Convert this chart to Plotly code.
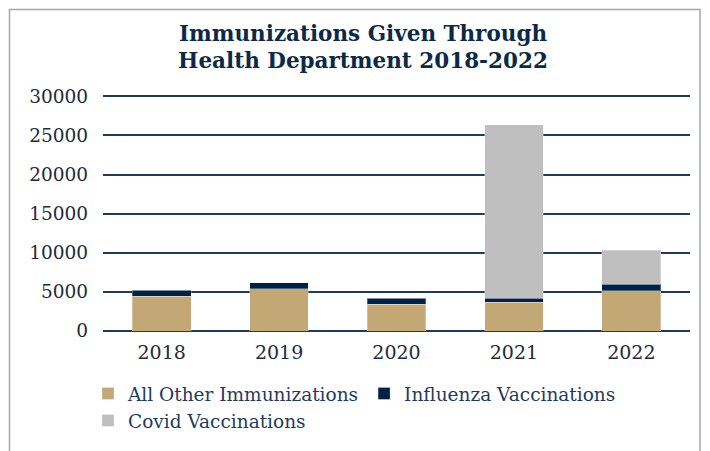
import plotly.graph_objects as go

years = ["2018", "2019", "2020", "2021", "2022"]
other = [4450, 5400, 3450, 3700, 5150]
flu = [770, 800, 740, 500, 840]
covid = [0, 0, 0, 22170, 4320]

series = [
    ("All Other Immunizations", other, "#C3A774"),
    ("Influenza Vaccinations", flu, "#002147"),
    ("Covid Vaccinations", covid, "#BFBFBF"),
]

W, H = 710, 451
OFF = 8  # page body margin
RMAX = 30300
# desired page pixel positions: y=0 at 331, y=30000 at 96
PL, PR, PB = 103, 690, 331
PT = 96 - (331 - 96) * (RMAX - 30000) / 30000
ML = PL - OFF
MT = PT - OFF
MR = W - (PR - OFF)
MB = H - (PB - OFF)

fig = go.Figure()
for name, vals, col in series:
    fig.add_trace(go.Bar(
        x=years, y=vals, name=name,
        marker=dict(color=col, line=dict(color="rgba(255,255,255,0.3)", width=1)),
    ))

pw = PR - PL
ph = PB - PT
def px_x(x):
    return (x - PL) / pw
def px_y(y):
    return (PB - y) / ph

TICK_COL = "#1E2B40"

fig.update_layout(
    width=W, height=H,
    margin=dict(l=ML, r=MR, t=MT, b=MB),
    barmode="stack", bargap=0.5,
    plot_bgcolor="white", paper_bgcolor="white",
    font=dict(family="DejaVu Serif", size=18, color=TICK_COL),
    title=dict(
        text="<b>Immunizations Given Through<br>Health Department 2018-2022</b>",
        x=0.5, xanchor="center", y=1 - (40.5 - OFF) / H, yanchor="middle",
        font=dict(family="DejaVu Serif", size=21.5, color="#0B2A4A"),
    ),
    xaxis=dict(showgrid=False, showline=False, ticks="", ticklabelstandoff=8,
               tickfont=dict(size=19, color=TICK_COL)),
    yaxis=dict(range=[0, RMAX], tickvals=[0, 5000, 10000, 15000, 20000, 25000, 30000],
               ticktext=["0", "5000", "10000", "15000", "20000", "25000", "30000"],
               showgrid=True, gridcolor="#1F3A5F", gridwidth=1.5,
               zeroline=True, zerolinecolor="#1F3A5F", zerolinewidth=1.5,
               ticks="", ticklabelstandoff=14, tickfont=dict(size=18.5, color=TICK_COL)),
    legend=dict(orientation="h", x=px_x(88), xanchor="left", y=px_y(375), yanchor="top",
                traceorder="normal", itemwidth=30,
                font=dict(family="DejaVu Serif", size=18.5, color="#1F3A5F")),
    showlegend=True,
    shapes=[dict(type="rect", xref="paper", yref="paper",
                 x0=px_x(OFF + 1.5), x1=px_x(700), y0=px_y(470), y1=px_y(OFF + 1),
                 line=dict(color="#A6A6A6", width=1.5), fillcolor="rgba(0,0,0,0)", layer="below")],
)

fig.write_html("out.html")
